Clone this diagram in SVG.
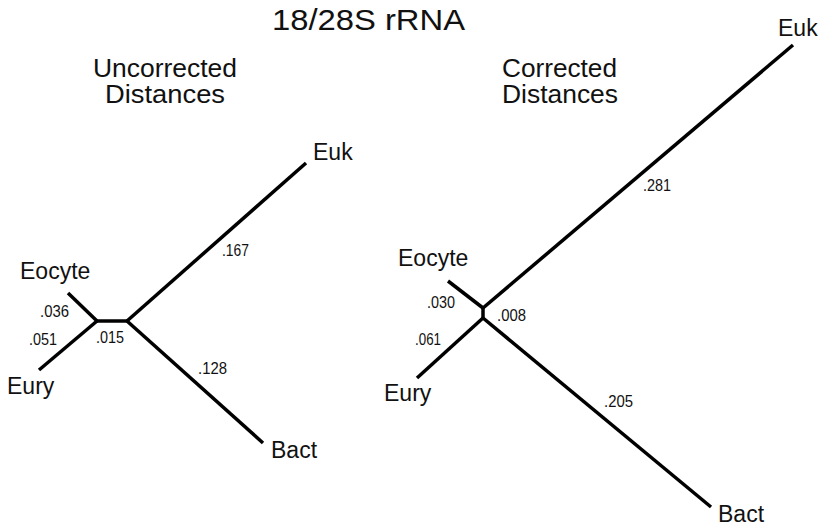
<svg xmlns="http://www.w3.org/2000/svg" width="823" height="529" viewBox="0 0 823 529">
<style>
text{font-family:"Liberation Sans",Arial,Helvetica,sans-serif;fill:#111}
.t{font-size:29px}
.s{font-size:25px}
.n{font-size:23px}
.b{font-size:16.5px}
.e{stroke:#000;stroke-width:3.5;fill:none;stroke-linecap:butt}
</style>
<rect width="823" height="529" fill="#fff"/>
<g id="titles">
<text class="t" x="272" y="30" textLength="193" lengthAdjust="spacingAndGlyphs">18/28S rRNA</text>
<text class="s" x="93" y="77" textLength="144" lengthAdjust="spacingAndGlyphs">Uncorrected</text>
<text class="s" x="105" y="103" textLength="120" lengthAdjust="spacingAndGlyphs">Distances</text>
<text class="s" x="502" y="77" textLength="115" lengthAdjust="spacingAndGlyphs">Corrected</text>
<text class="s" x="502" y="103" textLength="116" lengthAdjust="spacingAndGlyphs">Distances</text>
</g>
<g id="connectors">
<line class="e" x1="68" y1="293" x2="97" y2="321"/>
<line class="e" x1="39" y1="370" x2="97" y2="321"/>
<line class="e" x1="96" y1="321" x2="128" y2="321"/>
<line class="e" x1="127" y1="321" x2="306" y2="163"/>
<line class="e" x1="127" y1="321" x2="263" y2="443"/>
<line class="e" x1="448" y1="281" x2="483" y2="308"/>
<line class="e" x1="483" y1="308" x2="793" y2="45"/>
<line class="e" x1="483" y1="307" x2="483" y2="319"/>
<line class="e" x1="417" y1="378" x2="483" y2="318"/>
<line class="e" x1="483" y1="318" x2="711" y2="507"/>
</g>
<g id="left-labels">
<text class="b" x="40" y="317" textLength="29" lengthAdjust="spacingAndGlyphs">.036</text>
<text class="b" x="29" y="345" textLength="28" lengthAdjust="spacingAndGlyphs">.051</text>
<text class="b" x="96" y="343" textLength="28" lengthAdjust="spacingAndGlyphs">.015</text>
<text class="b" x="198" y="374" textLength="29" lengthAdjust="spacingAndGlyphs">.128</text>
<text class="b" x="222" y="256" textLength="27" lengthAdjust="spacingAndGlyphs">.167</text>
</g>
<g id="right-labels">
<text class="b" x="427" y="308" textLength="28" lengthAdjust="spacingAndGlyphs">.030</text>
<text class="b" x="497" y="321" textLength="29" lengthAdjust="spacingAndGlyphs">.008</text>
<text class="b" x="415" y="345" textLength="26" lengthAdjust="spacingAndGlyphs">.061</text>
<text class="b" x="643" y="191" textLength="28" lengthAdjust="spacingAndGlyphs">.281</text>
<text class="b" x="604" y="407" textLength="29" lengthAdjust="spacingAndGlyphs">.205</text>
</g>
<g id="node-left-eocyte"><text class="n" x="20" y="279">Eocyte</text></g>
<g id="node-left-eury"><text class="n" x="7" y="394">Eury</text></g>
<g id="node-left-euk"><text class="n" x="313" y="160">Euk</text></g>
<g id="node-left-bact"><text class="n" x="271" y="458">Bact</text></g>
<g id="node-right-eocyte"><text class="n" x="398" y="266">Eocyte</text></g>
<g id="node-right-eury"><text class="n" x="384" y="401">Eury</text></g>
<g id="node-right-euk"><text class="n" x="778" y="36">Euk</text></g>
<g id="node-right-bact"><text class="n" x="718" y="522">Bact</text></g>
</svg>
